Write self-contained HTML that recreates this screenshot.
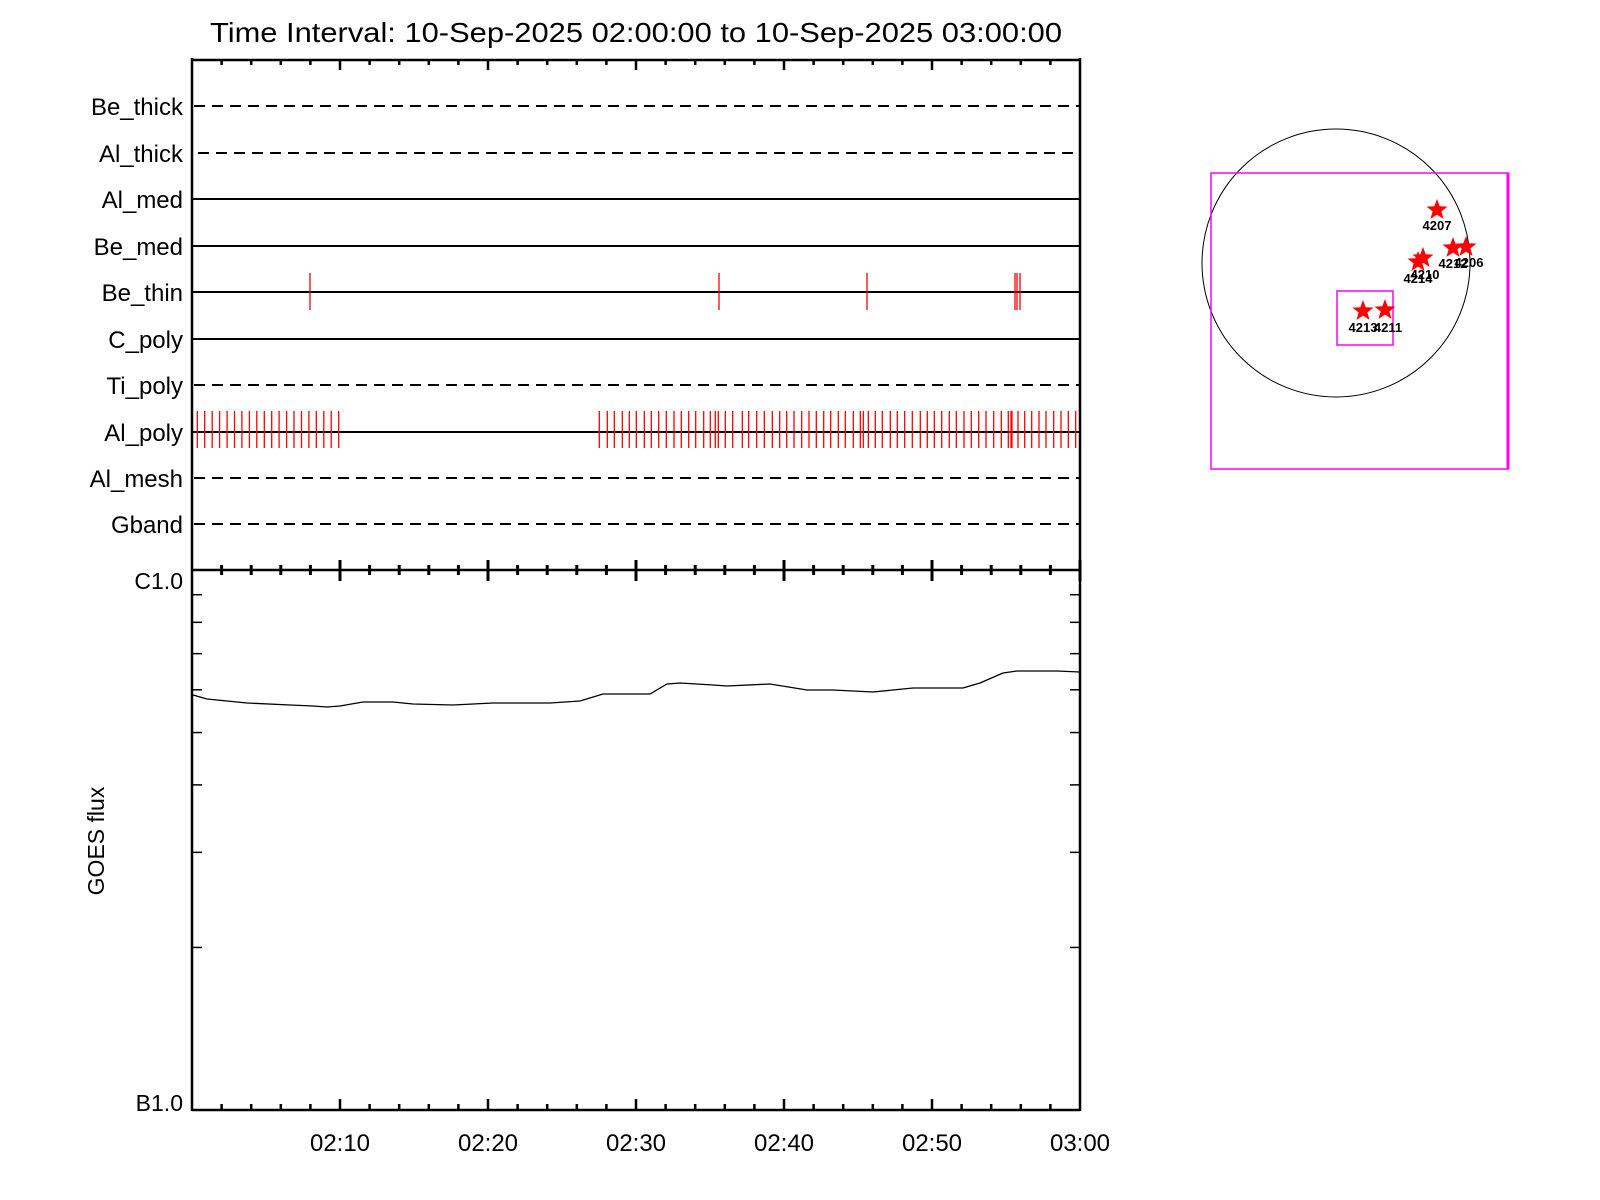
<!DOCTYPE html>
<html><head><meta charset="utf-8"><style>html,body{margin:0;padding:0;background:#fff}svg{display:block}text{font-family:"Liberation Sans",sans-serif;fill:#000}</style></head>
<body>
<svg id="s" width="1600" height="1200" viewBox="0 0 1600 1200" xmlns="http://www.w3.org/2000/svg">
<rect width="1600" height="1200" fill="#fff"/>
<text x="210" y="42" font-size="28" textLength="852" lengthAdjust="spacingAndGlyphs">Time Interval: 10-Sep-2025 02:00:00 to 10-Sep-2025 03:00:00</text>
<g id="g"></g>
<circle cx="1336" cy="263" r="134" fill="none" stroke="#000" stroke-width="1"/>
<rect x="1211" y="173" width="297" height="296" fill="none" stroke="#ff00ff" stroke-width="1.5"/>
<line x1="1508" y1="173" x2="1508" y2="469" stroke="#ff00ff" stroke-width="3"/>
<rect x="1337" y="291" width="56" height="54" fill="none" stroke="#ff00ff" stroke-width="1.5"/>
<g id="st"></g>
</svg>
<script>
var g=document.getElementById('g'),h='';
function L(x1,y1,x2,y2,c,w,d){h+='<line x1="'+x1+'" y1="'+y1+'" x2="'+x2+'" y2="'+y2+'" stroke="'+(c||'#000')+'" stroke-width="'+(w||2)+'"'+(d?' stroke-dasharray="'+d+'"':'')+'/>';}
var X0=192,X1=1080;function tx(m){return X0+(X1-X0)*m/60;}
var rows=[["Be_thick",106,1],["Al_thick",153,1],["Al_med",199,0],["Be_med",246,0],["Be_thin",292,0],["C_poly",339,0],["Ti_poly",385,1],["Al_poly",432,0],["Al_mesh",478,1],["Gband",524,1]];
rows.forEach(function(r){
 h+='<text x="183" y="'+(r[1]+9)+'" font-size="24" text-anchor="end">'+r[0]+'</text>';
 if(r[2])L(r[0]=="Al_thick"?198:194,r[1],X1,r[1],'#000',2,'11 7');else L(X0,r[1],X1,r[1],'#000',2);
});
function rt(x,y){L(x,y-19,x,y+18,'#f00',1.3);}
[310,719,867,1015,1017,1020].forEach(function(x){rt(x,292);});
var a=[];for(var i=0;i<20;i++)a.push(197.3+i*7.44);
[28,52,73,97,118,139,163,184,206,229,252,274,296,317,341,361,376,385,406,428,457,476,500,523,547,569,590,612,635,657,679,701,722,745].forEach(function(p){a.push(590+p/3);});
[31,55,76,85,100,121,142,166,187,209,232,256,277,298,320,343,364,387,409,431,453,476,499,520,528,531,549,569,590,612,633,656,678,700,722].forEach(function(p){a.push(835+p/3);});
a.forEach(function(x){rt(x.toFixed(1),430);});
L(X0,60,X1,60,'#000',2.5);L(X0,570,X1,570,'#000',2.5);L(X0,1110,X1,1110,'#000',2.5);
L(X0,58,X0,1111,'#000',2.5);L(X1,58,X1,1111,'#000',2.5);
for(var m=2;m<60;m+=2){var x=tx(m),maj=m%10==0;
 L(x,60,x,maj?70:65,'#000',2.5);
 L(x,maj?560:565,x,maj?581:575,'#000',3);
 L(x,1110,x,maj?1099:1104,'#000',2.5);
 if(maj){h+='<text x="'+x+'" y="1151" font-size="24" text-anchor="middle">02:'+m+'</text>';}
}
L(X1,560,X1,581,'#000',3);
h+='<text x="'+X1+'" y="1151" font-size="24" text-anchor="middle">03:00</text>';
for(var k=2;k<10;k++){var y=1110-540*Math.log10(k);L(X0,y,X0+10,y,'#000',1.5);L(X1-10,y,X1,y,'#000',1.5);}
h+='<text x="183" y="589" font-size="23" text-anchor="end">C1.0</text>';
h+='<text x="183" y="1111" font-size="23" text-anchor="end">B1.0</text>';
h+='<text transform="translate(104,841) rotate(-90)" font-size="23" text-anchor="middle">GOES flux</text>';
var pts=[[193,695],[207,699],[247,703],[290,705],[313,706],[327,707],[340,706],[363,702],[393,702],[413,704],[453,705],[493,703],[540,703],[550,703],[580,701],[603,694],[650,694],[667,684],[680,683],[713,685],[727,686],[770,684],[807,690],[833,690],[873,692],[913,688],[963,688],[980,683],[1003,673],[1017,671],[1057,671],[1080,672]];
h+='<polyline fill="none" stroke="#000" stroke-width="1.3" points="'+pts.map(function(p){return p.join(',')}).join(' ')+'"/>';
g.innerHTML=h;
function star(cx,cy,r){var s='';for(var i=0;i<10;i++){var rr=i%2?r*0.42:r,an=-Math.PI/2+i*Math.PI/5;s+=(cx+rr*Math.cos(an)).toFixed(1)+','+(cy+rr*Math.sin(an)).toFixed(1)+' ';}return '<polygon points="'+s+'" fill="#f00"/>';}
var S=[[1437,210,"4207",1437,230],[1453,248,"4212",1453,268],[1466,247,"4206",1469,267],[1423,258,"4210",1425,279],[1418,262,"4214",1418,283],[1363,311,"4213",1363,332],[1385,310,"4211",1388,332]];
var t='';S.forEach(function(s){t+=star(s[0],s[1],11);});
S.forEach(function(s){t+='<text x="'+s[3]+'" y="'+s[4]+'" font-size="13" font-weight="bold" text-anchor="middle">'+s[2]+'</text>';});
document.getElementById('st').innerHTML=t;
</script>
</body></html>
